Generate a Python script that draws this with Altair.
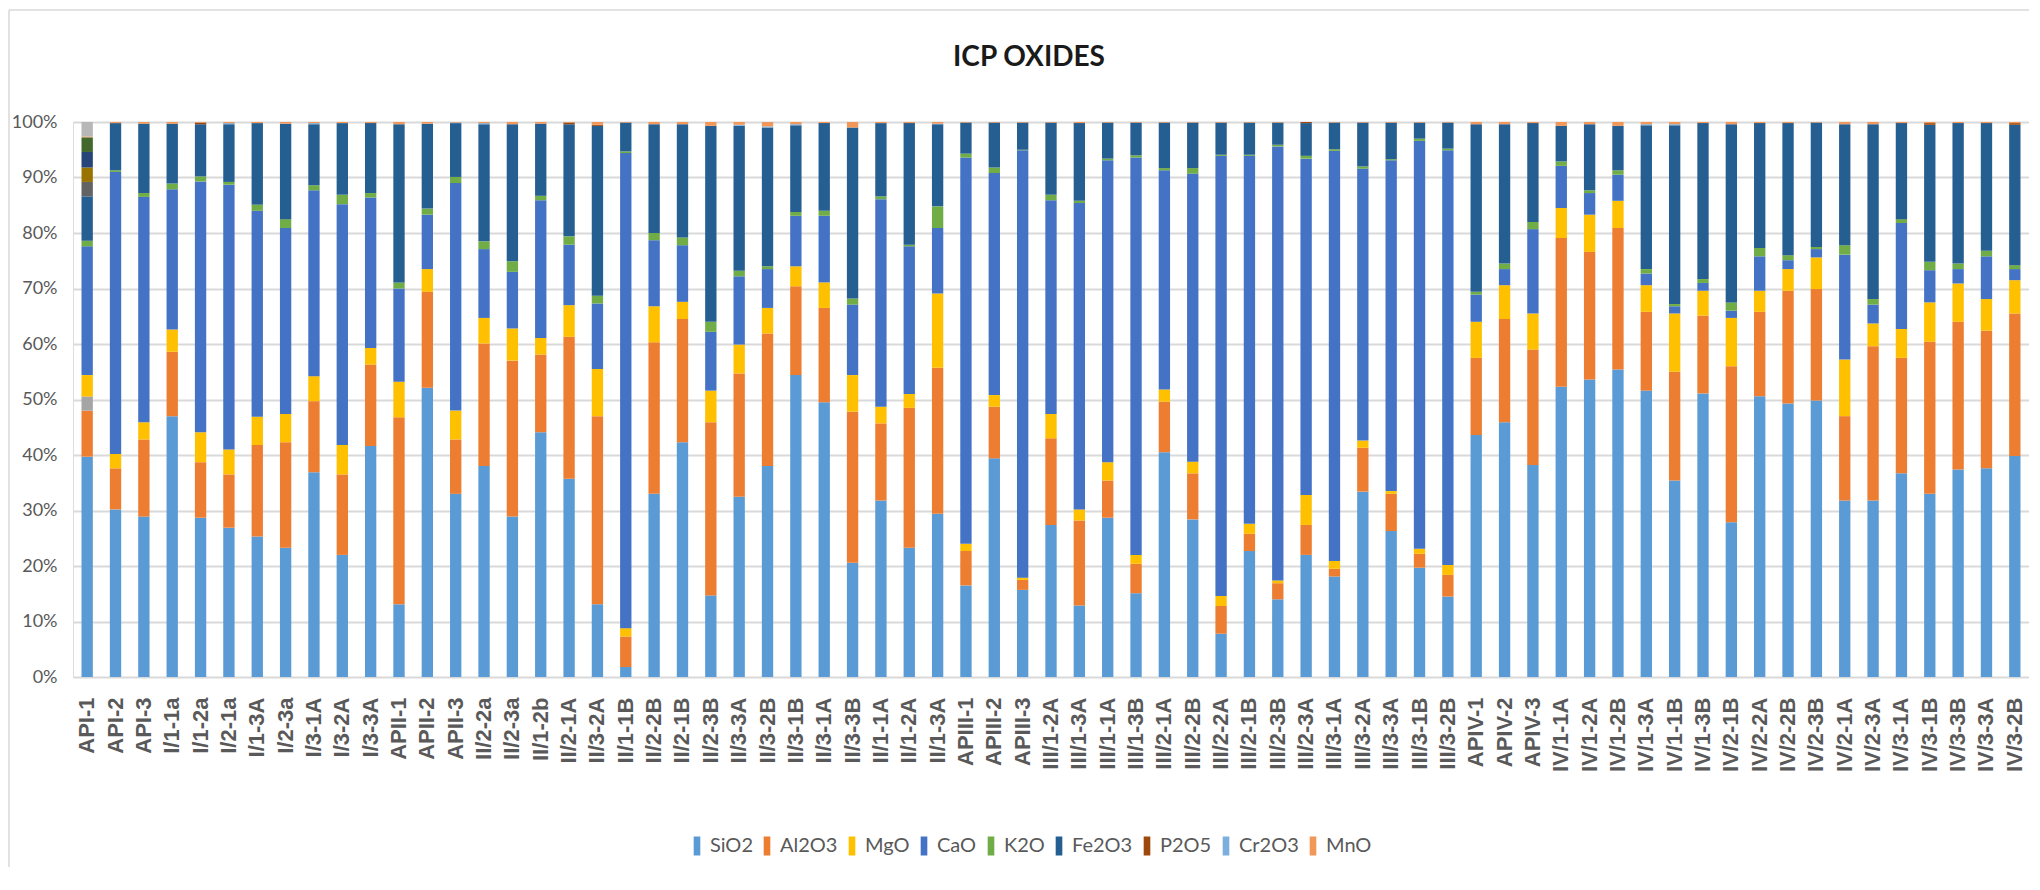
import altair as alt
import pandas as pd

samples = ["API-1", "API-2", "API-3", "I/1-1a", "I/1-2a", "I/2-1a", "I/1-3A", "I/2-3a", "I/3-1A", "I/3-2A",
           "I/3-3A", "APII-1", "APII-2", "APII-3", "II/2-2a", "II/2-3a", "II/1-2b", "II/2-1A", "II/3-2A", "II/1-1B",
           "II/2-2B", "II/2-1B", "II/2-3B", "II/3-3A", "II/3-2B", "II/3-1B", "II/3-1A", "II/3-3B", "II/1-1A", "II/1-2A",
           "II/1-3A", "APIII-1", "APIII-2", "APIII-3", "III/1-2A", "III/1-3A", "III/1-1A", "III/1-3B", "III/2-1A", "III/2-2B",
           "III/2-2A", "III/2-1B", "III/2-3B", "III/2-3A", "III/3-1A", "III/3-2A", "III/3-3A", "III/3-1B", "III/3-2B", "APIV-1",
           "APIV-2", "APIV-3", "IV/1-1A", "IV/1-2A", "IV/1-2B", "IV/1-3A", "IV/1-1B", "IV/1-3B", "IV/2-1B", "IV/2-2A",
           "IV/2-2B", "IV/2-3B", "IV/2-1A", "IV/2-3A", "IV/3-1A", "IV/3-1B", "IV/3-3B", "IV/3-3A", "IV/3-2B"]

SiO2 = [39.7, 30.2, 28.9, 47.0, 28.7, 26.9, 25.3, 23.3, 36.9, 22.0,
        41.6, 13.1, 52.1, 33.0, 38.0, 28.9, 44.1, 35.7, 13.1, 1.8,
        33.0, 42.3, 14.7, 32.5, 38.0, 54.4, 49.5, 20.6, 31.8, 23.3,
        29.4, 16.5, 39.4, 15.7, 27.4, 12.9, 28.7, 15.1, 40.5, 28.4,
        7.8, 22.7, 14.0, 22.0, 18.1, 33.4, 26.3, 19.7, 14.5, 43.6,
        45.9, 38.2, 52.3, 53.6, 55.4, 51.6, 35.4, 51.1, 27.9, 50.6,
        49.3, 49.8, 31.8, 31.8, 36.7, 33.0, 37.4, 37.6, 39.8]
Al2O3 = [8.3, 7.4, 13.9, 11.6, 10.0, 9.6, 16.5, 19.0, 12.8, 14.5,
         14.7, 33.7, 17.3, 9.8, 22.1, 28.1, 14.0, 25.6, 33.9, 5.5,
         27.3, 22.2, 31.2, 22.2, 23.9, 16.0, 17.0, 27.2, 13.9, 25.2,
         26.3, 6.2, 9.3, 1.8, 15.6, 15.3, 6.7, 5.3, 9.1, 8.3,
         5.0, 3.1, 2.9, 5.4, 1.4, 7.9, 6.7, 2.5, 3.9, 13.9,
         18.6, 20.8, 26.8, 23.0, 25.5, 14.2, 19.6, 14.0, 28.1, 15.2,
         20.3, 20.1, 15.2, 27.8, 20.8, 27.4, 26.6, 24.8, 25.7]
MgO = [3.9, 2.6, 3.1, 4.0, 5.4, 4.5, 5.1, 5.1, 4.5, 5.3,
       3.0, 6.4, 4.1, 5.2, 4.6, 5.8, 3.0, 5.7, 8.5, 1.5,
       6.5, 3.1, 5.7, 5.2, 4.6, 3.6, 4.6, 6.6, 3.0, 2.5,
       13.4, 1.3, 2.1, 0.4, 4.4, 2.0, 3.3, 1.6, 2.2, 2.1,
       1.8, 1.8, 0.5, 5.4, 1.4, 1.3, 0.5, 0.9, 1.8, 6.5,
       6.1, 6.5, 5.4, 6.7, 4.9, 4.8, 10.5, 4.5, 8.7, 3.8,
       3.9, 5.7, 10.2, 4.1, 5.2, 7.1, 6.9, 5.7, 6.0]
CaO = [23.2, 50.8, 40.6, 25.3, 45.2, 47.7, 37.1, 33.5, 33.5, 43.4,
       27.1, 16.8, 9.8, 41.0, 12.4, 10.2, 24.8, 10.9, 11.8, 85.6,
       11.9, 10.2, 10.6, 12.3, 7.0, 9.1, 12.0, 12.7, 37.4, 26.6,
       11.8, 69.6, 40.0, 77.0, 38.5, 55.2, 54.4, 71.6, 39.5, 51.9,
       79.3, 66.3, 78.2, 60.6, 73.9, 49.0, 59.6, 73.5, 74.7, 4.9,
       2.9, 15.2, 7.6, 3.9, 4.7, 2.1, 1.3, 1.4, 1.3, 6.2,
       1.6, 1.5, 18.9, 3.4, 19.1, 5.8, 2.6, 7.7, 2.0]
K2O = [1.0, 0.3, 0.7, 1.0, 0.9, 0.5, 1.1, 1.6, 0.9, 1.7,
       0.8, 1.1, 1.1, 1.1, 1.4, 1.9, 0.8, 1.5, 1.4, 0.3,
       1.3, 1.4, 1.8, 1.0, 0.5, 0.7, 0.9, 1.1, 0.5, 0.3,
       3.9, 0.7, 1.0, 0.1, 1.0, 0.4, 0.3, 0.4, 0.4, 1.0,
       0.2, 0.2, 0.3, 0.5, 0.3, 0.4, 0.2, 0.4, 0.3, 0.5,
       1.0, 1.3, 0.8, 0.5, 0.8, 0.8, 0.4, 0.7, 1.5, 1.5,
       0.9, 0.4, 1.7, 1.0, 0.7, 1.5, 1.0, 1.0, 0.7]
Fe2O3 = [8.0, 8.5, 12.5, 10.8, 9.4, 10.4, 14.7, 17.2, 11.0, 12.9,
         12.6, 28.5, 15.3, 9.7, 21.1, 24.7, 13.0, 20.2, 30.6, 5.2,
         19.6, 20.4, 35.3, 26.1, 25.0, 15.6, 15.8, 30.8, 13.2, 21.9,
         14.8, 5.6, 8.1, 4.9, 13.0, 14.0, 6.5, 5.9, 8.2, 8.2,
         5.8, 5.8, 4.0, 5.9, 4.8, 7.9, 6.6, 2.9, 4.7, 30.2,
         25.1, 17.8, 6.4, 11.9, 8.0, 25.9, 32.2, 28.1, 32.1, 22.5,
         23.8, 22.4, 21.8, 31.5, 17.3, 24.7, 25.3, 23.0, 25.3]
P2O5 = [0, 0, 0, 0, 0.3, 0, 0, 0, 0, 0,
        0, 0, 0, 0, 0, 0, 0, 0.3, 0.2, 0,
        0, 0, 0, 0, 0, 0, 0, 0, 0, 0,
        0, 0, 0, 0, 0, 0, 0, 0, 0, 0,
        0, 0, 0, 0.2, 0, 0, 0, 0, 0, 0,
        0, 0, 0, 0, 0, 0, 0, 0, 0, 0,
        0, 0, 0, 0, 0, 0.3, 0, 0, 0.3]
Cr2O3 = [0, 0, 0, 0, 0, 0.2, 0, 0, 0.2, 0,
         0, 0, 0, 0.1, 0.2, 0, 0, 0, 0, 0,
         0, 0, 0, 0.2, 0.2, 0.2, 0, 0, 0, 0,
         0.1, 0, 0, 0, 0, 0, 0, 0, 0, 0,
         0, 0, 0, 0, 0, 0, 0, 0, 0, 0,
         0, 0, 0, 0, 0, 0.2, 0.2, 0, 0, 0,
         0, 0, 0, 0, 0, 0, 0, 0, 0]
MnO = [0.2, 0.2, 0.3, 0.3, 0.1, 0.2, 0.2, 0.3, 0.2, 0.2,
       0.2, 0.4, 0.3, 0.1, 0.2, 0.4, 0.3, 0.1, 0.5, 0.1,
       0.4, 0.4, 0.7, 0.5, 0.8, 0.4, 0.2, 1.0, 0.2, 0.2,
       0.3, 0.1, 0.1, 0.1, 0.1, 0.2, 0.1, 0.1, 0.1, 0.1,
       0.1, 0.1, 0.1, 0.0, 0.1, 0.1, 0.1, 0.1, 0.1, 0.4,
       0.4, 0.2, 0.7, 0.4, 0.7, 0.4, 0.4, 0.2, 0.4, 0.2,
       0.2, 0.1, 0.4, 0.4, 0.2, 0.2, 0.2, 0.2, 0.2]

# unnamed series (not in the legend) that only have values for API-1
extra_names = ["Series 3", "Series 8", "Series 9", "Series 10", "Series 11", "Series 15"]
extra_api1 = [2.5, 2.6, 2.6, 2.8, 2.6, 2.6]

legend_oxides = ["SiO2", "Al2O3", "MgO", "CaO", "K2O", "Fe2O3", "P2O5", "Cr2O3", "MnO"]
stack_order = ["SiO2", "Al2O3", "Series 3", "MgO", "CaO", "K2O", "Fe2O3", "Series 8", "Series 9",
               "Series 10", "Series 11", "P2O5", "Cr2O3", "MnO", "Series 15"]
colors = ["#5B9BD5", "#ED7D31", "#A5A5A5", "#FFC000", "#4472C4", "#70AD47", "#255E91", "#636363",
          "#997300", "#264478", "#43682B", "#9E480E", "#7CAFDD", "#F1975A", "#B7B7B7"]

series = {"SiO2": SiO2, "Al2O3": Al2O3, "MgO": MgO, "CaO": CaO, "K2O": K2O,
          "Fe2O3": Fe2O3, "P2O5": P2O5, "Cr2O3": Cr2O3, "MnO": MnO}
rows = []
for name, vals in series.items():
    for s, v in zip(samples, vals):
        if v > 0:
            rows.append({"Sample": s, "Oxide": name, "Value": v, "Rank": stack_order.index(name)})
for name, v in zip(extra_names, extra_api1):
    rows.append({"Sample": samples[0], "Oxide": name, "Value": v, "Rank": stack_order.index(name)})
df = pd.DataFrame(rows)

TITLE = "ICP OXIDES"
TEXT_FONT = "Lato, sans-serif"
LABEL_FONT = "'Liberation Sans', Arial, sans-serif"
GRAY = "#595959"

bars = alt.Chart(df).mark_bar().encode(
    x=alt.X("Sample:N", sort=samples,
            scale=alt.Scale(paddingInner=0.6, paddingOuter=0.3),
            axis=alt.Axis(title=None, labelAngle=-90, labelFont=LABEL_FONT, labelFontSize=22,
                          labelFontWeight="bold", labelColor=GRAY, ticks=False, domain=False,
                          labelPadding=20, grid=False, labelLimit=300)),
    y=alt.Y("Value:Q", stack="normalize", scale=alt.Scale(domain=[0, 1]),
            axis=alt.Axis(title=None, format=".0%", values=[i / 10 for i in range(11)],
                          grid=True, gridColor="#D9D9D9", gridWidth=2, domain=False, ticks=False,
                          labelPadding=16, labelFont=TEXT_FONT, labelFontSize=18, labelColor=GRAY)),
    color=alt.Color("Oxide:N", scale=alt.Scale(domain=stack_order, range=colors),
                    legend=alt.Legend(values=legend_oxides, orient="none", legendX=614, legendY=714,
                                      direction="horizontal", title=None,
                                      symbolType="M-0.35,-1H0.35V1H-0.35Z", symbolSize=361,
                                      symbolStrokeWidth=0, labelFont=TEXT_FONT, labelFontSize=20,
                                      labelColor=GRAY, columnPadding=4, labelOffset=3, padding=0)),
    order=alt.Order("Rank:Q", sort="ascending"),
)

frame = alt.Data(values=[{"k": 1}])
left_border = alt.Chart(frame).mark_rule(color="#D9D9D9", strokeWidth=1.5).encode(
    x=alt.value(-64), y=alt.value(-112), y2=alt.value(770))
top_border = alt.Chart(frame).mark_rule(color="#D9D9D9", strokeWidth=1.5).encode(
    x=alt.value(-64), x2=alt.value(1960), y=alt.value(-112))
title = alt.Chart(frame).mark_text(
    text=TITLE, font=TEXT_FONT, fontSize=28, fontWeight="bold", color="#1A1A1A",
    align="center", baseline="middle").encode(x=alt.value(956), y=alt.value(-64))

chart = alt.layer(left_border, top_border, title, bars).properties(
    width=1956, height=555,
    autosize=alt.AutoSizeParams(type="none"),
    padding={"left": 65, "top": 114, "right": 0, "bottom": 190},
).configure_view(stroke=None).configure(background="white")

chart.save("out.html", embed_options={"renderer": "svg", "actions": False})
